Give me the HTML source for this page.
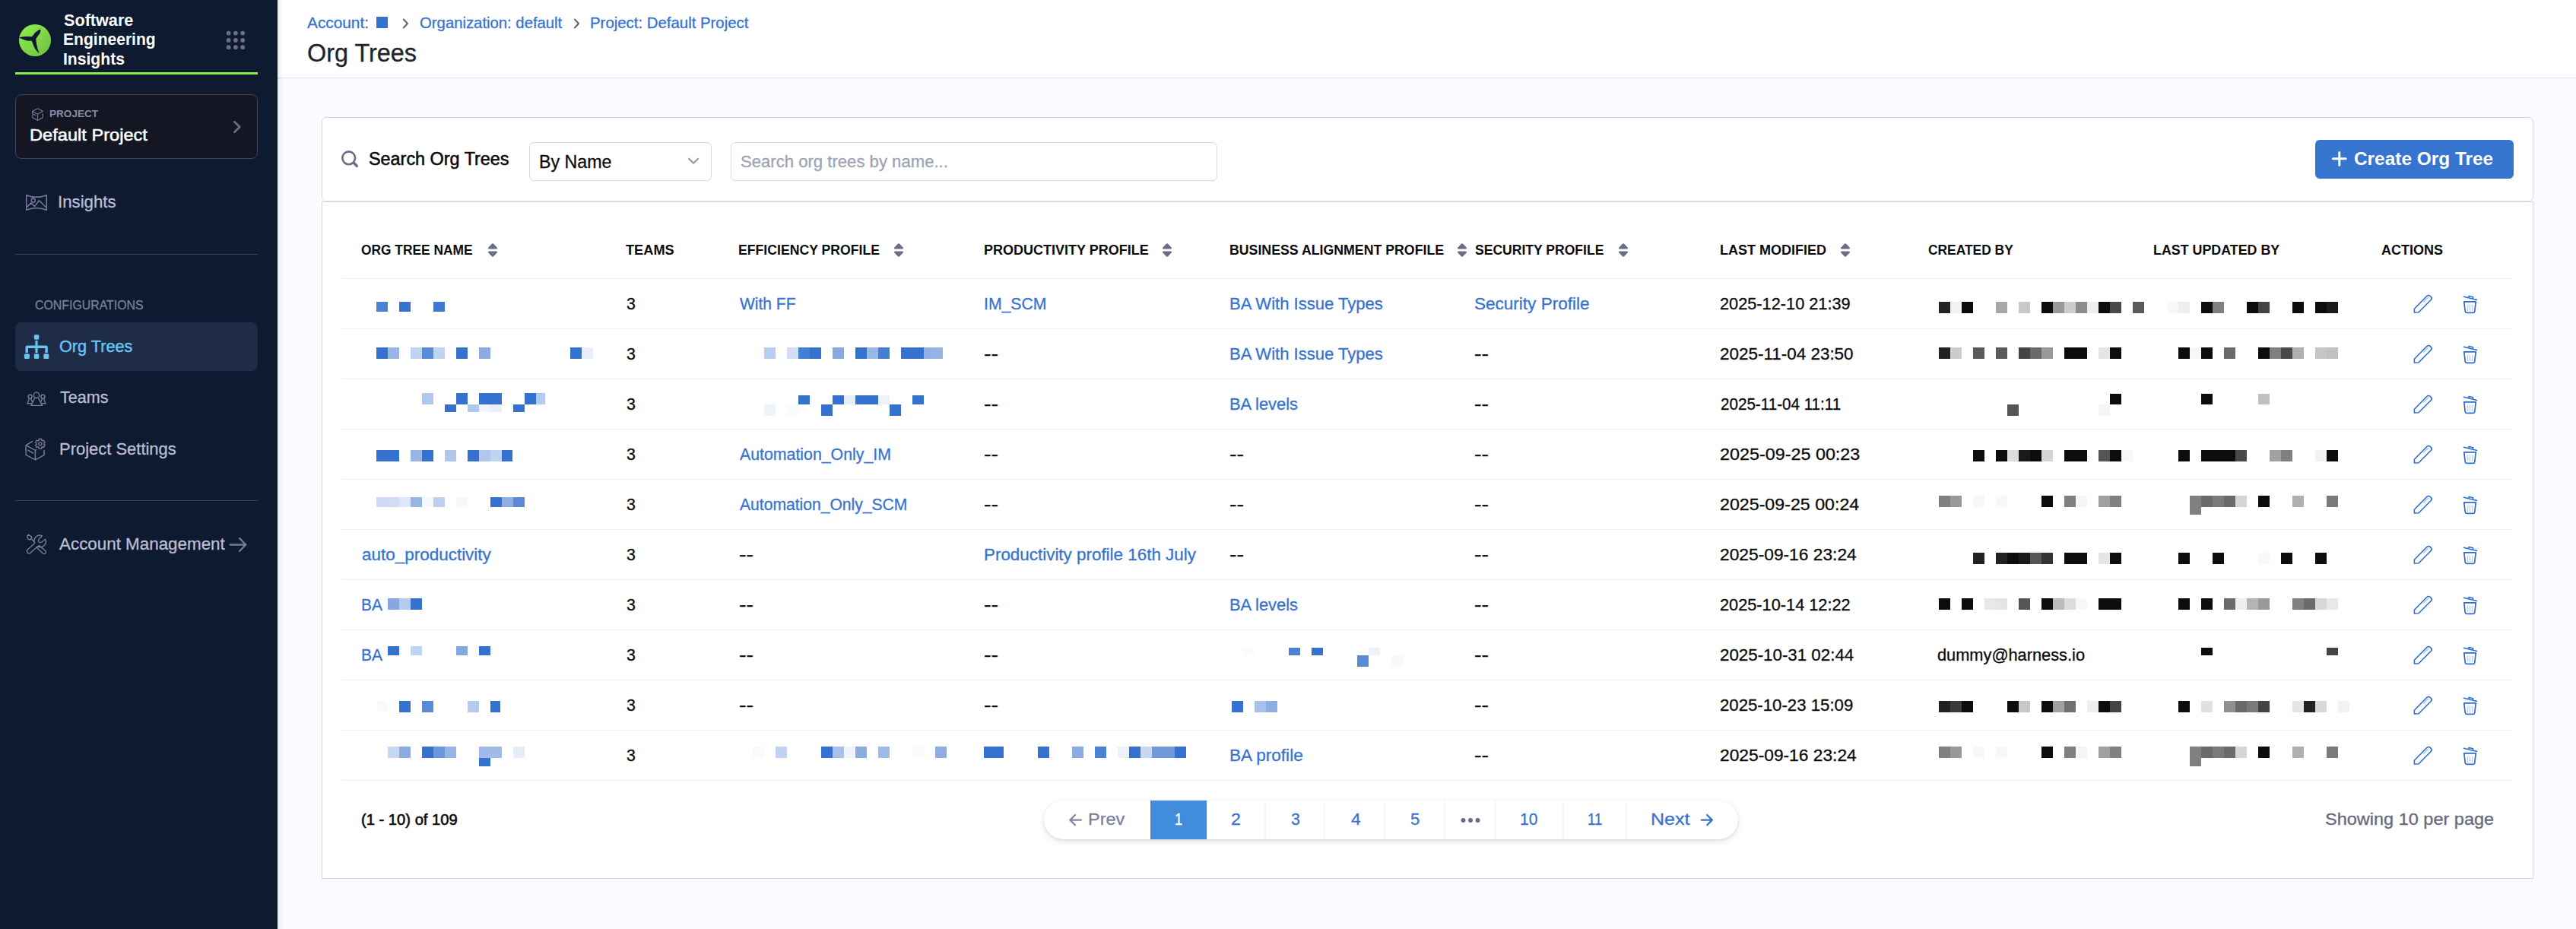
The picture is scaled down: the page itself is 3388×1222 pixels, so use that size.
<!DOCTYPE html>
<html lang="en"><head><meta charset="utf-8"><title>Org Trees</title>
<style>
html,body{margin:0;padding:0;}
body{width:3388px;height:1222px;overflow:hidden;position:relative;background:#fafbfe;font-family:"Liberation Sans", Arial, sans-serif;}
.t{position:absolute;white-space:nowrap;height:40px;line-height:40px;transform-origin:0 50%;}
.abs{position:absolute;}

#sb{left:0;top:0;width:365px;height:1222px;background:#0e1a30;}
#hdr{left:365px;top:0;width:3023px;height:102px;background:#fff;border-bottom:1.5px solid #dcdde8;}
.card{background:#fff;border:1.3px solid #d6d7e4;box-sizing:border-box;}
.rl{left:449px;width:2856px;height:1.2px;background:#eeeff6;}

</style></head><body>
<div id="sb" class="abs"></div>
<div class="abs" style="left:365px;top:0;width:8px;height:1222px;background:linear-gradient(90deg,rgba(40,41,61,0.07),rgba(40,41,61,0));"></div>
<div id="hdr" class="abs"></div>
<div class="abs" style="left:365px;top:0;width:6px;height:104px;background:linear-gradient(90deg,rgba(40,41,61,0.10),rgba(40,41,61,0));"></div>
<div class="abs" style="left:20px;top:94.5px;width:319px;height:3.5px;background:#89ec4d;"></div>
<div class="abs" style="left:20px;top:124px;width:319px;height:85px;box-sizing:border-box;background:#141624;border:1.5px solid #42445a;border-radius:8px;"></div>
<div class="abs" style="left:20px;top:424px;width:319px;height:63.5px;background:#1f2c47;border-radius:8px;"></div>
<div class="abs" style="left:20px;top:333.7px;width:319px;height:1.5px;background:#3b3e54;"></div>
<div class="abs" style="left:20px;top:657.6px;width:319px;height:1.5px;background:#3b3e54;"></div>
<div class="abs card" style="left:422.8px;top:154px;width:2909px;height:111px;border-radius:6px;"></div>
<div class="abs card" style="left:422.8px;top:264.9px;width:2909px;height:891.3px;"></div>
<div class="abs" style="left:696px;top:187px;width:240px;height:51px;box-sizing:border-box;border:1.5px solid #d9dae6;border-radius:6px;background:#fff;"></div>
<div class="abs" style="left:961px;top:187px;width:640px;height:51px;box-sizing:border-box;border:1.5px solid #d9dae6;border-radius:6px;background:#fff;"></div>
<div class="abs" style="left:3045px;top:184px;width:261.2px;height:50.7px;border-radius:6px;background:#3575d0;"></div>
<div class="abs rl" style="top:365.9px;"></div>
<div class="abs rl" style="top:431.9px;"></div>
<div class="abs rl" style="top:497.9px;"></div>
<div class="abs rl" style="top:563.9px;"></div>
<div class="abs rl" style="top:629.9px;"></div>
<div class="abs rl" style="top:695.9px;"></div>
<div class="abs rl" style="top:761.9px;"></div>
<div class="abs rl" style="top:827.9px;"></div>
<div class="abs rl" style="top:893.9px;"></div>
<div class="abs rl" style="top:959.9px;"></div>
<div class="abs rl" style="top:1025.9px;"></div>
<div class="abs" style="left:1373px;top:1053px;width:913px;height:51px;border-radius:26px;background:#fff;box-shadow:0 1px 3px rgba(40,41,61,0.10),0 3px 8px rgba(96,97,112,0.16);"></div>
<div class="abs" style="left:1513px;top:1053px;width:74px;height:51px;background:#418ddc;"></div>
<div class="abs" style="left:1661.5px;top:1053px;width:3px;height:51px;background:linear-gradient(90deg,rgba(40,41,61,0),rgba(40,41,61,0.06));"></div>
<div class="abs" style="left:1740.3px;top:1053px;width:3px;height:51px;background:linear-gradient(90deg,rgba(40,41,61,0),rgba(40,41,61,0.06));"></div>
<div class="abs" style="left:1819.3px;top:1053px;width:3px;height:51px;background:linear-gradient(90deg,rgba(40,41,61,0),rgba(40,41,61,0.06));"></div>
<div class="abs" style="left:1897.8px;top:1053px;width:3px;height:51px;background:linear-gradient(90deg,rgba(40,41,61,0),rgba(40,41,61,0.06));"></div>
<div class="abs" style="left:1964.5px;top:1053px;width:3px;height:51px;background:linear-gradient(90deg,rgba(40,41,61,0),rgba(40,41,61,0.06));"></div>
<div class="abs" style="left:2053.5px;top:1053px;width:3px;height:51px;background:linear-gradient(90deg,rgba(40,41,61,0),rgba(40,41,61,0.06));"></div>
<div class="abs" style="left:2136.5px;top:1053px;width:3px;height:51px;background:linear-gradient(90deg,rgba(40,41,61,0),rgba(40,41,61,0.06));"></div>
<div class="abs" style="left:25px;top:32px;width:42px;height:42px;border-radius:50%;background:linear-gradient(135deg,#8eea4c 10%,#72c443 90%);"></div>
<svg class="abs" style="left:0;top:0" width="3388" height="1222" viewBox="0 0 3388 1222"><path fill="#0e1a30" d="M25.0,49.2 Q33,47.4 41.2,48.3 L42.0,48.2 Q45.2,42.6 50.7,39.4 L53.3,38.6 Q53.8,43 50.4,46.6 Q48.4,49 47.3,51.2 Q47.6,57.5 49.2,63.3 Q50.2,66.5 51.7,70.1 Q46.4,65.6 44.8,61.4 Q43,57 41.5,53.6 Q36,54.2 32.3,52.4 Q28,51.2 25.0,49.2 Z"/>
<circle cx="300.6" cy="43.6" r="2.9" fill="#6c6e88"/>
<circle cx="309.9" cy="43.6" r="2.9" fill="#6c6e88"/>
<circle cx="319.2" cy="43.6" r="2.9" fill="#6c6e88"/>
<circle cx="300.6" cy="52.9" r="2.9" fill="#6c6e88"/>
<circle cx="309.9" cy="52.9" r="2.9" fill="#6c6e88"/>
<circle cx="319.2" cy="52.9" r="2.9" fill="#6c6e88"/>
<circle cx="300.6" cy="62.2" r="2.9" fill="#6c6e88"/>
<circle cx="309.9" cy="62.2" r="2.9" fill="#6c6e88"/>
<circle cx="319.2" cy="62.2" r="2.9" fill="#6c6e88"/>
<g fill="none" stroke="#696b88" stroke-width="1.3" stroke-linejoin="round" stroke-linecap="round"><path d="M56.3,149.6 L56.3,154.6 L49.5,158.4 L42.7,154.6 L42.7,146.4 L49.5,142.7 L56.3,146.4 L49.5,150.3 L42.7,146.4"/><path d="M49.5,150.3 L49.5,158.4"/><path d="M44.6,150.4 L46.7,151.6"/></g>
<path d="M308.3,160.3 L315.2,167 L308.3,173.8" fill="none" stroke="#6d6f8a" stroke-width="2.6" stroke-linecap="round" stroke-linejoin="round"/>
<g fill="none" stroke="#787a99" stroke-width="1.5" stroke-linejoin="round"><path d="M34.7,256.7 Q48,262 61.3,256.7 L61.3,276.3 Q48,271.4 34.7,276.3 Z"/><circle cx="43.7" cy="263.5" r="2.6"/><path d="M34.9,272.6 L41.1,266.9 L45.5,271.6 L51.4,263.8 L61.2,273.2"/></g>
<g fill="#69c4f2"><rect x="44.8" y="440.2" width="6.5" height="6.5" rx="1.6"/><rect x="46.4" y="448" width="3.2" height="16"/><path d="M33.5,464 L33.5,457 Q33.5,454.5 36,454.5 L60.3,454.5 Q62.8,454.5 62.8,457 L62.8,464 L59.4,464 L59.4,458 L36.9,458 L36.9,464 Z"/><rect x="31.9" y="465.3" width="7" height="6.8" rx="1.6"/><rect x="44.8" y="465.3" width="6.5" height="6.8" rx="1.6"/><rect x="57.3" y="465.3" width="7" height="6.8" rx="1.6"/></g>
<g fill="none" stroke="#787a99" stroke-width="1.4" stroke-linejoin="round"><circle cx="48" cy="519.8" r="3.7"/><path d="M45.6,523.6 L41,533.4 L55.4,533.4 L50.4,523.6"/><circle cx="39.6" cy="521.8" r="2.5"/><path d="M38.6,524.6 L36,530.8 L41.6,530.8 M40.7,524.6 L42.6,528.6"/><circle cx="56.5" cy="521.8" r="2.5"/><path d="M57.5,524.6 L60.1,530.8 L54.6,530.8 M55.4,524.6 L53.6,528.6"/></g>
<g fill="none" stroke="#787a99" stroke-width="1.5" stroke-linejoin="round" stroke-linecap="round"><path d="M42.6,580.6 L34.1,585.7 L34.1,598.3 L46.4,604.8 L58,598.6 L58,592.4 M34.1,585.7 L46.4,592.4 L47.8,591.7 M46.4,592.4 L46.4,604.8 M36.6,592.2 L43.6,596"/><path d="M51.0,577.5 L54.8,577.5 L54.7,579.2 L56.0,580.0 L57.4,579.0 L59.3,582.3 L57.7,583.0 L57.7,584.6 L59.3,585.3 L57.4,588.6 L56.0,587.6 L54.7,588.4 L54.8,590.1 L51.0,590.1 L51.1,588.4 L49.8,587.6 L48.4,588.6 L46.5,585.3 L48.1,584.6 L48.1,583.0 L46.5,582.3 L48.4,579.0 L49.8,580.0 L51.1,579.2 Z" stroke-width="1.3"/><circle cx="52.9" cy="583.8" r="2.1" stroke-width="1.3"/></g>
<g fill="none" stroke="#787a99" stroke-width="1.4" stroke-linejoin="round" stroke-linecap="round"><path d="M49.6,718.6 A7.2 7.2 0 0 0 59.6,709.2 L54.8,713.2 Q52,714.3 51.0,712.8 Q49.8,710.5 51.3,708.9 L55.5,704.8 A7.4 7.4 0 0 0 45.6,714.4 L36.3,723 A2.9 2.9 0 0 0 40.4,727.1 Z"/><path d="M37.6,703.3 L42,706.6 L39.6,710.2 L36.9,709.2 L35.6,705.4 Z M41,708.6 L45.2,713 M48.6,720.6 L51.6,717.6 L60,724.8 A2.5 2.5 0 0 1 56.6,728.2 Z"/></g>
<path d="M302.5,716.5 L322.5,716.5 M315,708 L323.3,716.5 L315,725" fill="none" stroke="#77799a" stroke-width="2.3" stroke-linecap="round" stroke-linejoin="round"/>
<path d="M530.8,25.5 L536.0,31 L530.8,36.5" fill="none" stroke="#5e6275" stroke-width="2" stroke-linecap="round" stroke-linejoin="round"/>
<path d="M755.9,25.5 L761.1,31 L755.9,36.5" fill="none" stroke="#5e6275" stroke-width="2" stroke-linecap="round" stroke-linejoin="round"/>
<g fill="none" stroke="#6b6d88" stroke-linecap="round"><circle cx="458.7" cy="207.8" r="8.4" stroke-width="2.6"/><path d="M465.3,214.3 L469.3,218.3" stroke-width="3.6"/></g>
<path d="M906.2,208.8 L912.1,214.6 L918,208.8" fill="none" stroke="#9ca0b4" stroke-width="2.4" stroke-linecap="round" stroke-linejoin="round"/>
<path d="M3068.4,208.8 L3085.2,208.8 M3076.8,200.4 L3076.8,217.2" stroke="#fff" stroke-width="3" stroke-linecap="round"/>
<path fill="#6b6d88" stroke="#6b6d88" stroke-width="2.4" stroke-linejoin="round" d="M643.2,326.3 L648,321.4 L652.8,326.3 Z M643.2,331.6 L648,336.6 L652.8,331.6 Z"/>
<path fill="#6b6d88" stroke="#6b6d88" stroke-width="2.4" stroke-linejoin="round" d="M1177.2,326.3 L1182,321.4 L1186.8,326.3 Z M1177.2,331.6 L1182,336.6 L1186.8,331.6 Z"/>
<path fill="#6b6d88" stroke="#6b6d88" stroke-width="2.4" stroke-linejoin="round" d="M1530.2,326.3 L1535,321.4 L1539.8,326.3 Z M1530.2,331.6 L1535,336.6 L1539.8,331.6 Z"/>
<path fill="#6b6d88" stroke="#6b6d88" stroke-width="2.4" stroke-linejoin="round" d="M1918.2,326.3 L1923,321.4 L1927.8,326.3 Z M1918.2,331.6 L1923,336.6 L1927.8,331.6 Z"/>
<path fill="#6b6d88" stroke="#6b6d88" stroke-width="2.4" stroke-linejoin="round" d="M2130.2,326.3 L2135,321.4 L2139.8,326.3 Z M2130.2,331.6 L2135,336.6 L2139.8,331.6 Z"/>
<path fill="#6b6d88" stroke="#6b6d88" stroke-width="2.4" stroke-linejoin="round" d="M2422.2,326.3 L2427,321.4 L2431.8,326.3 Z M2422.2,331.6 L2427,336.6 L2431.8,331.6 Z"/>
<g transform="translate(0,399.5)" fill="none" stroke="#2e6bd0" stroke-width="1.6" stroke-linejoin="round" stroke-linecap="round"><path d="M3175.4,11.5 L3175.4,6.8 L3191.8,-10.0 Q3194.2,-12.0 3196.3,-10.0 L3197.4,-8.9 Q3199.2,-7.0 3197.2,-5.0 L3181,11.3 Z"/><path d="M3187.6,-2.6 L3193.4,-8.2" stroke="#b5cdf0" stroke-width="1.8"/><path d="M3240.4,-9.2 L3257.6,-5.1 M3246.6,-7.8 L3247,-10 L3252.6,-8.7 L3252.2,-6.5" stroke-width="1.5"/><path d="M3240.8,-2.7 L3256.2,-2.7 L3254.8,10 Q3254.6,11.8 3252.8,11.8 L3244.2,11.8 Q3242.4,11.8 3242.2,10 Z" stroke-width="1.7"/><path d="M3245.4,1.6 L3245.6,9 M3248.5,1.6 L3248.5,9 M3251.8,1.6 L3251.5,9" stroke="#b5cdf0" stroke-width="1.3"/></g>
<g transform="translate(0,465.5)" fill="none" stroke="#2e6bd0" stroke-width="1.6" stroke-linejoin="round" stroke-linecap="round"><path d="M3175.4,11.5 L3175.4,6.8 L3191.8,-10.0 Q3194.2,-12.0 3196.3,-10.0 L3197.4,-8.9 Q3199.2,-7.0 3197.2,-5.0 L3181,11.3 Z"/><path d="M3187.6,-2.6 L3193.4,-8.2" stroke="#b5cdf0" stroke-width="1.8"/><path d="M3240.4,-9.2 L3257.6,-5.1 M3246.6,-7.8 L3247,-10 L3252.6,-8.7 L3252.2,-6.5" stroke-width="1.5"/><path d="M3240.8,-2.7 L3256.2,-2.7 L3254.8,10 Q3254.6,11.8 3252.8,11.8 L3244.2,11.8 Q3242.4,11.8 3242.2,10 Z" stroke-width="1.7"/><path d="M3245.4,1.6 L3245.6,9 M3248.5,1.6 L3248.5,9 M3251.8,1.6 L3251.5,9" stroke="#b5cdf0" stroke-width="1.3"/></g>
<g transform="translate(0,531.5)" fill="none" stroke="#2e6bd0" stroke-width="1.6" stroke-linejoin="round" stroke-linecap="round"><path d="M3175.4,11.5 L3175.4,6.8 L3191.8,-10.0 Q3194.2,-12.0 3196.3,-10.0 L3197.4,-8.9 Q3199.2,-7.0 3197.2,-5.0 L3181,11.3 Z"/><path d="M3187.6,-2.6 L3193.4,-8.2" stroke="#b5cdf0" stroke-width="1.8"/><path d="M3240.4,-9.2 L3257.6,-5.1 M3246.6,-7.8 L3247,-10 L3252.6,-8.7 L3252.2,-6.5" stroke-width="1.5"/><path d="M3240.8,-2.7 L3256.2,-2.7 L3254.8,10 Q3254.6,11.8 3252.8,11.8 L3244.2,11.8 Q3242.4,11.8 3242.2,10 Z" stroke-width="1.7"/><path d="M3245.4,1.6 L3245.6,9 M3248.5,1.6 L3248.5,9 M3251.8,1.6 L3251.5,9" stroke="#b5cdf0" stroke-width="1.3"/></g>
<g transform="translate(0,597.5)" fill="none" stroke="#2e6bd0" stroke-width="1.6" stroke-linejoin="round" stroke-linecap="round"><path d="M3175.4,11.5 L3175.4,6.8 L3191.8,-10.0 Q3194.2,-12.0 3196.3,-10.0 L3197.4,-8.9 Q3199.2,-7.0 3197.2,-5.0 L3181,11.3 Z"/><path d="M3187.6,-2.6 L3193.4,-8.2" stroke="#b5cdf0" stroke-width="1.8"/><path d="M3240.4,-9.2 L3257.6,-5.1 M3246.6,-7.8 L3247,-10 L3252.6,-8.7 L3252.2,-6.5" stroke-width="1.5"/><path d="M3240.8,-2.7 L3256.2,-2.7 L3254.8,10 Q3254.6,11.8 3252.8,11.8 L3244.2,11.8 Q3242.4,11.8 3242.2,10 Z" stroke-width="1.7"/><path d="M3245.4,1.6 L3245.6,9 M3248.5,1.6 L3248.5,9 M3251.8,1.6 L3251.5,9" stroke="#b5cdf0" stroke-width="1.3"/></g>
<g transform="translate(0,663.5)" fill="none" stroke="#2e6bd0" stroke-width="1.6" stroke-linejoin="round" stroke-linecap="round"><path d="M3175.4,11.5 L3175.4,6.8 L3191.8,-10.0 Q3194.2,-12.0 3196.3,-10.0 L3197.4,-8.9 Q3199.2,-7.0 3197.2,-5.0 L3181,11.3 Z"/><path d="M3187.6,-2.6 L3193.4,-8.2" stroke="#b5cdf0" stroke-width="1.8"/><path d="M3240.4,-9.2 L3257.6,-5.1 M3246.6,-7.8 L3247,-10 L3252.6,-8.7 L3252.2,-6.5" stroke-width="1.5"/><path d="M3240.8,-2.7 L3256.2,-2.7 L3254.8,10 Q3254.6,11.8 3252.8,11.8 L3244.2,11.8 Q3242.4,11.8 3242.2,10 Z" stroke-width="1.7"/><path d="M3245.4,1.6 L3245.6,9 M3248.5,1.6 L3248.5,9 M3251.8,1.6 L3251.5,9" stroke="#b5cdf0" stroke-width="1.3"/></g>
<g transform="translate(0,729.5)" fill="none" stroke="#2e6bd0" stroke-width="1.6" stroke-linejoin="round" stroke-linecap="round"><path d="M3175.4,11.5 L3175.4,6.8 L3191.8,-10.0 Q3194.2,-12.0 3196.3,-10.0 L3197.4,-8.9 Q3199.2,-7.0 3197.2,-5.0 L3181,11.3 Z"/><path d="M3187.6,-2.6 L3193.4,-8.2" stroke="#b5cdf0" stroke-width="1.8"/><path d="M3240.4,-9.2 L3257.6,-5.1 M3246.6,-7.8 L3247,-10 L3252.6,-8.7 L3252.2,-6.5" stroke-width="1.5"/><path d="M3240.8,-2.7 L3256.2,-2.7 L3254.8,10 Q3254.6,11.8 3252.8,11.8 L3244.2,11.8 Q3242.4,11.8 3242.2,10 Z" stroke-width="1.7"/><path d="M3245.4,1.6 L3245.6,9 M3248.5,1.6 L3248.5,9 M3251.8,1.6 L3251.5,9" stroke="#b5cdf0" stroke-width="1.3"/></g>
<g transform="translate(0,795.5)" fill="none" stroke="#2e6bd0" stroke-width="1.6" stroke-linejoin="round" stroke-linecap="round"><path d="M3175.4,11.5 L3175.4,6.8 L3191.8,-10.0 Q3194.2,-12.0 3196.3,-10.0 L3197.4,-8.9 Q3199.2,-7.0 3197.2,-5.0 L3181,11.3 Z"/><path d="M3187.6,-2.6 L3193.4,-8.2" stroke="#b5cdf0" stroke-width="1.8"/><path d="M3240.4,-9.2 L3257.6,-5.1 M3246.6,-7.8 L3247,-10 L3252.6,-8.7 L3252.2,-6.5" stroke-width="1.5"/><path d="M3240.8,-2.7 L3256.2,-2.7 L3254.8,10 Q3254.6,11.8 3252.8,11.8 L3244.2,11.8 Q3242.4,11.8 3242.2,10 Z" stroke-width="1.7"/><path d="M3245.4,1.6 L3245.6,9 M3248.5,1.6 L3248.5,9 M3251.8,1.6 L3251.5,9" stroke="#b5cdf0" stroke-width="1.3"/></g>
<g transform="translate(0,861.5)" fill="none" stroke="#2e6bd0" stroke-width="1.6" stroke-linejoin="round" stroke-linecap="round"><path d="M3175.4,11.5 L3175.4,6.8 L3191.8,-10.0 Q3194.2,-12.0 3196.3,-10.0 L3197.4,-8.9 Q3199.2,-7.0 3197.2,-5.0 L3181,11.3 Z"/><path d="M3187.6,-2.6 L3193.4,-8.2" stroke="#b5cdf0" stroke-width="1.8"/><path d="M3240.4,-9.2 L3257.6,-5.1 M3246.6,-7.8 L3247,-10 L3252.6,-8.7 L3252.2,-6.5" stroke-width="1.5"/><path d="M3240.8,-2.7 L3256.2,-2.7 L3254.8,10 Q3254.6,11.8 3252.8,11.8 L3244.2,11.8 Q3242.4,11.8 3242.2,10 Z" stroke-width="1.7"/><path d="M3245.4,1.6 L3245.6,9 M3248.5,1.6 L3248.5,9 M3251.8,1.6 L3251.5,9" stroke="#b5cdf0" stroke-width="1.3"/></g>
<g transform="translate(0,927.5)" fill="none" stroke="#2e6bd0" stroke-width="1.6" stroke-linejoin="round" stroke-linecap="round"><path d="M3175.4,11.5 L3175.4,6.8 L3191.8,-10.0 Q3194.2,-12.0 3196.3,-10.0 L3197.4,-8.9 Q3199.2,-7.0 3197.2,-5.0 L3181,11.3 Z"/><path d="M3187.6,-2.6 L3193.4,-8.2" stroke="#b5cdf0" stroke-width="1.8"/><path d="M3240.4,-9.2 L3257.6,-5.1 M3246.6,-7.8 L3247,-10 L3252.6,-8.7 L3252.2,-6.5" stroke-width="1.5"/><path d="M3240.8,-2.7 L3256.2,-2.7 L3254.8,10 Q3254.6,11.8 3252.8,11.8 L3244.2,11.8 Q3242.4,11.8 3242.2,10 Z" stroke-width="1.7"/><path d="M3245.4,1.6 L3245.6,9 M3248.5,1.6 L3248.5,9 M3251.8,1.6 L3251.5,9" stroke="#b5cdf0" stroke-width="1.3"/></g>
<g transform="translate(0,993.5)" fill="none" stroke="#2e6bd0" stroke-width="1.6" stroke-linejoin="round" stroke-linecap="round"><path d="M3175.4,11.5 L3175.4,6.8 L3191.8,-10.0 Q3194.2,-12.0 3196.3,-10.0 L3197.4,-8.9 Q3199.2,-7.0 3197.2,-5.0 L3181,11.3 Z"/><path d="M3187.6,-2.6 L3193.4,-8.2" stroke="#b5cdf0" stroke-width="1.8"/><path d="M3240.4,-9.2 L3257.6,-5.1 M3246.6,-7.8 L3247,-10 L3252.6,-8.7 L3252.2,-6.5" stroke-width="1.5"/><path d="M3240.8,-2.7 L3256.2,-2.7 L3254.8,10 Q3254.6,11.8 3252.8,11.8 L3244.2,11.8 Q3242.4,11.8 3242.2,10 Z" stroke-width="1.7"/><path d="M3245.4,1.6 L3245.6,9 M3248.5,1.6 L3248.5,9 M3251.8,1.6 L3251.5,9" stroke="#b5cdf0" stroke-width="1.3"/></g>
<path d="M1422,1078.6 L1407.6,1078.6 M1414,1072 L1407.4,1078.6 L1414,1085.2" fill="none" stroke="#8486a0" stroke-width="2.3" stroke-linecap="round" stroke-linejoin="round"/>
<path d="M2237.8,1078.6 L2251.6,1078.6 M2245.2,1072 L2251.8,1078.6 L2245.2,1085.2" fill="none" stroke="#3673d0" stroke-width="2.3" stroke-linecap="round" stroke-linejoin="round"/>
<circle cx="1924.5" cy="1079" r="3" fill="#6b6d88"/>
<circle cx="1934" cy="1079" r="3" fill="#6b6d88"/>
<circle cx="1943.5" cy="1079" r="3" fill="#6b6d88"/></svg>
<svg class="abs" style="left:0;top:0" width="3388" height="1222" viewBox="0 0 3388 1222" shape-rendering="crispEdges">
<rect x="495" y="22" width="15" height="15" fill="#3572cf"/>
<rect x="495" y="397" width="15" height="13" fill="#4a82d4"/>
<rect x="525" y="397" width="15" height="13" fill="#3572cf"/>
<rect x="570" y="397" width="15" height="13" fill="#3f7ad2"/>
<rect x="495" y="457" width="15" height="15" fill="#3572cf"/>
<rect x="510" y="457" width="15" height="15" fill="#98b5e4"/>
<rect x="540" y="457" width="15" height="15" fill="#c0d3f0"/>
<rect x="555" y="457" width="15" height="15" fill="#5a8bd7"/>
<rect x="570" y="457" width="15" height="15" fill="#c0d3f0"/>
<rect x="600" y="457" width="15" height="15" fill="#3572cf"/>
<rect x="630" y="457" width="15" height="15" fill="#8aace1"/>
<rect x="750" y="457" width="15" height="15" fill="#3572cf"/>
<rect x="765" y="457" width="15" height="15" fill="#e8eff9"/>
<rect x="555" y="517" width="15" height="15" fill="#b0c8ed"/>
<rect x="600" y="517" width="15" height="15" fill="#3572cf"/>
<rect x="630" y="517" width="15" height="15" fill="#3572cf"/>
<rect x="645" y="517" width="15" height="15" fill="#3572cf"/>
<rect x="690" y="517" width="15" height="15" fill="#3572cf"/>
<rect x="705" y="517" width="12" height="15" fill="#b5cbee"/>
<rect x="585" y="532" width="15" height="10" fill="#3572cf"/>
<rect x="615" y="532" width="15" height="10" fill="#b0c8ed"/>
<rect x="630" y="532" width="15" height="10" fill="#f0f4fb"/>
<rect x="645" y="532" width="15" height="10" fill="#eaf0fa"/>
<rect x="675" y="532" width="15" height="10" fill="#3572cf"/>
<rect x="495" y="592" width="15" height="15" fill="#3572cf"/>
<rect x="510" y="592" width="15" height="15" fill="#3572cf"/>
<rect x="540" y="592" width="15" height="15" fill="#9ab6e5"/>
<rect x="555" y="592" width="15" height="15" fill="#3572cf"/>
<rect x="585" y="592" width="15" height="15" fill="#b0c6ec"/>
<rect x="615" y="592" width="15" height="15" fill="#3572cf"/>
<rect x="630" y="592" width="15" height="15" fill="#b0c8ed"/>
<rect x="645" y="592" width="15" height="15" fill="#c0d3f0"/>
<rect x="660" y="592" width="14" height="15" fill="#3572cf"/>
<rect x="495" y="654" width="15" height="13" fill="#cddbf3"/>
<rect x="510" y="654" width="15" height="13" fill="#d0ddf4"/>
<rect x="525" y="654" width="15" height="13" fill="#dde7f7"/>
<rect x="540" y="654" width="15" height="13" fill="#98b5e4"/>
<rect x="555" y="654" width="15" height="13" fill="#f5f8fc"/>
<rect x="570" y="654" width="15" height="13" fill="#bed0ef"/>
<rect x="600" y="654" width="15" height="13" fill="#f6f8fd"/>
<rect x="645" y="654" width="15" height="13" fill="#3572cf"/>
<rect x="660" y="654" width="15" height="13" fill="#8eade2"/>
<rect x="675" y="654" width="15" height="13" fill="#5a8ad6"/>
<rect x="510" y="787" width="15" height="15" fill="#86a8e0"/>
<rect x="525" y="787" width="15" height="15" fill="#b5caee"/>
<rect x="540" y="787" width="15" height="15" fill="#3572cf"/>
<rect x="510" y="850" width="15" height="12" fill="#3572cf"/>
<rect x="540" y="850" width="15" height="12" fill="#c0d3f0"/>
<rect x="600" y="850" width="15" height="12" fill="#86a8e0"/>
<rect x="630" y="850" width="15" height="12" fill="#3572cf"/>
<rect x="495" y="922" width="15" height="15" fill="#f8fafd"/>
<rect x="525" y="922" width="15" height="15" fill="#3572cf"/>
<rect x="555" y="922" width="15" height="15" fill="#5a8ad6"/>
<rect x="615" y="922" width="15" height="15" fill="#b5caee"/>
<rect x="645" y="922" width="13" height="15" fill="#3572cf"/>
<rect x="510" y="982" width="15" height="15" fill="#c8d8f2"/>
<rect x="525" y="982" width="15" height="15" fill="#8aace1"/>
<rect x="555" y="982" width="15" height="15" fill="#3572cf"/>
<rect x="570" y="982" width="15" height="15" fill="#6a96da"/>
<rect x="585" y="982" width="15" height="15" fill="#98b5e4"/>
<rect x="630" y="982" width="15" height="15" fill="#a0bbe7"/>
<rect x="645" y="982" width="15" height="15" fill="#a0bbe7"/>
<rect x="675" y="982" width="15" height="15" fill="#e5edf9"/>
<rect x="630" y="997" width="15" height="11" fill="#3572cf"/>
<rect x="990" y="457" width="15" height="15" fill="#fcfdfe"/>
<rect x="1005" y="457" width="15" height="15" fill="#b8cdef"/>
<rect x="1035" y="457" width="15" height="15" fill="#d0def4"/>
<rect x="1050" y="457" width="15" height="15" fill="#4380d3"/>
<rect x="1065" y="457" width="15" height="15" fill="#3572cf"/>
<rect x="1095" y="457" width="15" height="15" fill="#86a9e0"/>
<rect x="1125" y="457" width="15" height="15" fill="#3572cf"/>
<rect x="1140" y="457" width="15" height="15" fill="#9ab8e6"/>
<rect x="1155" y="457" width="15" height="15" fill="#457fd3"/>
<rect x="1185" y="457" width="15" height="15" fill="#3572cf"/>
<rect x="1200" y="457" width="15" height="15" fill="#3572cf"/>
<rect x="1215" y="457" width="15" height="15" fill="#93b2e4"/>
<rect x="1230" y="457" width="10" height="15" fill="#95b3e4"/>
<rect x="1050" y="520" width="15" height="12" fill="#3572cf"/>
<rect x="1095" y="520" width="15" height="12" fill="#3572cf"/>
<rect x="1110" y="520" width="15" height="12" fill="#e8eef9"/>
<rect x="1125" y="520" width="15" height="12" fill="#3572cf"/>
<rect x="1140" y="520" width="15" height="12" fill="#3572cf"/>
<rect x="1155" y="520" width="15" height="12" fill="#eef2fb"/>
<rect x="1200" y="520" width="15" height="12" fill="#3572cf"/>
<rect x="1005" y="532" width="15" height="15" fill="#eef2fb"/>
<rect x="1035" y="532" width="15" height="15" fill="#fafbfe"/>
<rect x="1080" y="532" width="15" height="15" fill="#3572cf"/>
<rect x="1170" y="532" width="15" height="15" fill="#3572cf"/>
<rect x="990" y="982" width="15" height="15" fill="#f8fafd"/>
<rect x="1020" y="982" width="15" height="15" fill="#c0d3f0"/>
<rect x="1080" y="982" width="15" height="15" fill="#3572cf"/>
<rect x="1095" y="982" width="15" height="15" fill="#a8c0ea"/>
<rect x="1110" y="982" width="15" height="15" fill="#f0f4fb"/>
<rect x="1125" y="982" width="15" height="15" fill="#8aace1"/>
<rect x="1155" y="982" width="15" height="15" fill="#9ebae6"/>
<rect x="1200" y="982" width="15" height="15" fill="#f8fafd"/>
<rect x="1230" y="982" width="15" height="15" fill="#8eade2"/>
<rect x="1294" y="982" width="26" height="15" fill="#3572cf"/>
<rect x="1365" y="982" width="15" height="15" fill="#3572cf"/>
<rect x="1410" y="982" width="15" height="15" fill="#8aace1"/>
<rect x="1440" y="982" width="15" height="15" fill="#4a82d4"/>
<rect x="1470" y="982" width="15" height="15" fill="#eef2fb"/>
<rect x="1485" y="982" width="15" height="15" fill="#3572cf"/>
<rect x="1500" y="982" width="15" height="15" fill="#c8d8f2"/>
<rect x="1515" y="982" width="15" height="15" fill="#6f99db"/>
<rect x="1530" y="982" width="15" height="15" fill="#6f99db"/>
<rect x="1545" y="982" width="15" height="15" fill="#3572cf"/>
<rect x="1635" y="852" width="15" height="10" fill="#fafbfe"/>
<rect x="1695" y="852" width="15" height="10" fill="#4a82d4"/>
<rect x="1725" y="852" width="15" height="10" fill="#3572cf"/>
<rect x="1800" y="852" width="15" height="10" fill="#eef2fb"/>
<rect x="1785" y="862" width="15" height="15" fill="#5a8ad6"/>
<rect x="1830" y="862" width="15" height="15" fill="#f8f9fd"/>
<rect x="1620" y="922" width="15" height="15" fill="#3572cf"/>
<rect x="1650" y="922" width="15" height="15" fill="#a8c0ea"/>
<rect x="1665" y="922" width="15" height="15" fill="#8eade2"/>
<rect x="2550" y="397" width="15" height="15" fill="#222"/>
<rect x="2565" y="397" width="15" height="15" fill="#f2f2f2"/>
<rect x="2580" y="397" width="15" height="15" fill="#0c0c0c"/>
<rect x="2625" y="397" width="15" height="15" fill="#a8a8a8"/>
<rect x="2655" y="397" width="15" height="15" fill="#c8c8c8"/>
<rect x="2685" y="397" width="15" height="15" fill="#0c0c0c"/>
<rect x="2700" y="397" width="15" height="15" fill="#999"/>
<rect x="2715" y="397" width="15" height="15" fill="#ccc"/>
<rect x="2730" y="397" width="15" height="15" fill="#8c8c8c"/>
<rect x="2745" y="397" width="15" height="15" fill="#eee"/>
<rect x="2760" y="397" width="15" height="15" fill="#0c0c0c"/>
<rect x="2775" y="397" width="15" height="15" fill="#4a4a4a"/>
<rect x="2805" y="397" width="15" height="15" fill="#5a5a5a"/>
<rect x="2550" y="457" width="15" height="15" fill="#222"/>
<rect x="2565" y="457" width="15" height="15" fill="#ccc"/>
<rect x="2595" y="457" width="15" height="15" fill="#5a5a5a"/>
<rect x="2625" y="457" width="15" height="15" fill="#5a5a5a"/>
<rect x="2655" y="457" width="15" height="15" fill="#444"/>
<rect x="2670" y="457" width="15" height="15" fill="#6a6a6a"/>
<rect x="2685" y="457" width="15" height="15" fill="#999"/>
<rect x="2715" y="457" width="15" height="15" fill="#0c0c0c"/>
<rect x="2730" y="457" width="15" height="15" fill="#0c0c0c"/>
<rect x="2760" y="457" width="15" height="15" fill="#e5e5e5"/>
<rect x="2775" y="457" width="15" height="15" fill="#0c0c0c"/>
<rect x="2775" y="518" width="15" height="14" fill="#0c0c0c"/>
<rect x="2640" y="532" width="15" height="15" fill="#555"/>
<rect x="2760" y="532" width="15" height="15" fill="#f5f5f5"/>
<rect x="2595" y="592" width="15" height="15" fill="#0c0c0c"/>
<rect x="2625" y="592" width="15" height="15" fill="#0c0c0c"/>
<rect x="2640" y="592" width="15" height="15" fill="#ddd"/>
<rect x="2655" y="592" width="15" height="15" fill="#1a1a1a"/>
<rect x="2670" y="592" width="15" height="15" fill="#0c0c0c"/>
<rect x="2685" y="592" width="15" height="15" fill="#d5d5d5"/>
<rect x="2715" y="592" width="15" height="15" fill="#0c0c0c"/>
<rect x="2730" y="592" width="15" height="15" fill="#0c0c0c"/>
<rect x="2760" y="592" width="15" height="15" fill="#555"/>
<rect x="2775" y="592" width="15" height="15" fill="#0c0c0c"/>
<rect x="2790" y="592" width="15" height="15" fill="#f8f8f8"/>
<rect x="2550" y="652" width="15" height="15" fill="#808080"/>
<rect x="2565" y="652" width="15" height="15" fill="#999"/>
<rect x="2595" y="652" width="15" height="15" fill="#f8f8f8"/>
<rect x="2625" y="652" width="15" height="15" fill="#f8f8f8"/>
<rect x="2685" y="652" width="15" height="15" fill="#0c0c0c"/>
<rect x="2715" y="652" width="15" height="15" fill="#808080"/>
<rect x="2730" y="652" width="15" height="15" fill="#f5f5f5"/>
<rect x="2760" y="652" width="15" height="15" fill="#a0a0a0"/>
<rect x="2775" y="652" width="15" height="15" fill="#808080"/>
<rect x="2595" y="727" width="15" height="15" fill="#222"/>
<rect x="2625" y="727" width="15" height="15" fill="#222"/>
<rect x="2640" y="727" width="15" height="15" fill="#0c0c0c"/>
<rect x="2655" y="727" width="15" height="15" fill="#1a1a1a"/>
<rect x="2670" y="727" width="15" height="15" fill="#555"/>
<rect x="2685" y="727" width="15" height="15" fill="#333"/>
<rect x="2715" y="727" width="15" height="15" fill="#0c0c0c"/>
<rect x="2730" y="727" width="15" height="15" fill="#0c0c0c"/>
<rect x="2760" y="727" width="15" height="15" fill="#e5e5e5"/>
<rect x="2775" y="727" width="15" height="15" fill="#0c0c0c"/>
<rect x="2550" y="787" width="15" height="15" fill="#0c0c0c"/>
<rect x="2580" y="787" width="15" height="15" fill="#0c0c0c"/>
<rect x="2610" y="787" width="15" height="15" fill="#e8e8e8"/>
<rect x="2625" y="787" width="15" height="15" fill="#e5e5e5"/>
<rect x="2655" y="787" width="15" height="15" fill="#555"/>
<rect x="2685" y="787" width="15" height="15" fill="#0c0c0c"/>
<rect x="2700" y="787" width="15" height="15" fill="#bbb"/>
<rect x="2715" y="787" width="15" height="15" fill="#ddd"/>
<rect x="2730" y="787" width="15" height="15" fill="#f8f8f8"/>
<rect x="2760" y="787" width="15" height="15" fill="#0c0c0c"/>
<rect x="2775" y="787" width="15" height="15" fill="#0c0c0c"/>
<rect x="2550" y="922" width="15" height="15" fill="#222"/>
<rect x="2565" y="922" width="15" height="15" fill="#3a3a3a"/>
<rect x="2580" y="922" width="15" height="15" fill="#0c0c0c"/>
<rect x="2640" y="922" width="15" height="15" fill="#0c0c0c"/>
<rect x="2655" y="922" width="15" height="15" fill="#c8c8c8"/>
<rect x="2685" y="922" width="15" height="15" fill="#0c0c0c"/>
<rect x="2700" y="922" width="15" height="15" fill="#a0a0a0"/>
<rect x="2715" y="922" width="15" height="15" fill="#707070"/>
<rect x="2745" y="922" width="15" height="15" fill="#eee"/>
<rect x="2760" y="922" width="15" height="15" fill="#0c0c0c"/>
<rect x="2775" y="922" width="15" height="15" fill="#444"/>
<rect x="2550" y="982" width="15" height="15" fill="#808080"/>
<rect x="2565" y="982" width="15" height="15" fill="#999"/>
<rect x="2595" y="982" width="15" height="15" fill="#f8f8f8"/>
<rect x="2625" y="982" width="15" height="15" fill="#f8f8f8"/>
<rect x="2685" y="982" width="15" height="15" fill="#0c0c0c"/>
<rect x="2715" y="982" width="15" height="15" fill="#808080"/>
<rect x="2730" y="982" width="15" height="15" fill="#f5f5f5"/>
<rect x="2760" y="982" width="15" height="15" fill="#a0a0a0"/>
<rect x="2775" y="982" width="15" height="15" fill="#808080"/>
<rect x="2850" y="397" width="15" height="15" fill="#f8f8f8"/>
<rect x="2865" y="397" width="15" height="15" fill="#eee"/>
<rect x="2895" y="397" width="15" height="15" fill="#0c0c0c"/>
<rect x="2910" y="397" width="15" height="15" fill="#808080"/>
<rect x="2955" y="397" width="15" height="15" fill="#0c0c0c"/>
<rect x="2970" y="397" width="15" height="15" fill="#444"/>
<rect x="3015" y="397" width="15" height="15" fill="#0c0c0c"/>
<rect x="3045" y="397" width="15" height="15" fill="#0c0c0c"/>
<rect x="3060" y="397" width="15" height="15" fill="#1a1a1a"/>
<rect x="2865" y="457" width="15" height="15" fill="#0c0c0c"/>
<rect x="2880" y="457" width="15" height="15" fill="#f8f8f8"/>
<rect x="2895" y="457" width="15" height="15" fill="#0c0c0c"/>
<rect x="2925" y="457" width="15" height="15" fill="#6a6a6a"/>
<rect x="2970" y="457" width="15" height="15" fill="#0c0c0c"/>
<rect x="2985" y="457" width="15" height="15" fill="#808080"/>
<rect x="3000" y="457" width="15" height="15" fill="#4a4a4a"/>
<rect x="3015" y="457" width="15" height="15" fill="#b0b0b0"/>
<rect x="3045" y="457" width="15" height="15" fill="#c5c5c5"/>
<rect x="3060" y="457" width="15" height="15" fill="#c0c0c0"/>
<rect x="2895" y="518" width="15" height="14" fill="#0c0c0c"/>
<rect x="2970" y="518" width="15" height="14" fill="#c0c0c0"/>
<rect x="2865" y="592" width="15" height="15" fill="#0c0c0c"/>
<rect x="2895" y="592" width="15" height="15" fill="#0c0c0c"/>
<rect x="2910" y="592" width="15" height="15" fill="#0c0c0c"/>
<rect x="2925" y="592" width="15" height="15" fill="#0c0c0c"/>
<rect x="2940" y="592" width="15" height="15" fill="#4a4a4a"/>
<rect x="2985" y="592" width="15" height="15" fill="#a0a0a0"/>
<rect x="3000" y="592" width="15" height="15" fill="#808080"/>
<rect x="3045" y="592" width="15" height="15" fill="#f2f2f2"/>
<rect x="3060" y="592" width="15" height="15" fill="#0c0c0c"/>
<rect x="2880" y="652" width="15" height="15" fill="#808080"/>
<rect x="2895" y="652" width="15" height="15" fill="#6a6a6a"/>
<rect x="2910" y="652" width="15" height="15" fill="#7a7a7a"/>
<rect x="2925" y="652" width="15" height="15" fill="#6a6a6a"/>
<rect x="2940" y="652" width="15" height="15" fill="#d5d5d5"/>
<rect x="2970" y="652" width="15" height="15" fill="#0c0c0c"/>
<rect x="3015" y="652" width="15" height="15" fill="#b0b0b0"/>
<rect x="3060" y="652" width="15" height="15" fill="#7a7a7a"/>
<rect x="2880" y="667" width="15" height="10" fill="#808080"/>
<rect x="2865" y="727" width="15" height="15" fill="#0c0c0c"/>
<rect x="2910" y="727" width="15" height="15" fill="#0c0c0c"/>
<rect x="2970" y="727" width="15" height="15" fill="#f8f8f8"/>
<rect x="3000" y="727" width="15" height="15" fill="#0c0c0c"/>
<rect x="3045" y="727" width="15" height="15" fill="#0c0c0c"/>
<rect x="2865" y="787" width="15" height="15" fill="#0c0c0c"/>
<rect x="2895" y="787" width="15" height="15" fill="#0c0c0c"/>
<rect x="2925" y="787" width="15" height="15" fill="#6a6a6a"/>
<rect x="2940" y="787" width="15" height="15" fill="#eee"/>
<rect x="2955" y="787" width="15" height="15" fill="#b5b5b5"/>
<rect x="2970" y="787" width="15" height="15" fill="#999"/>
<rect x="3015" y="787" width="15" height="15" fill="#808080"/>
<rect x="3030" y="787" width="15" height="15" fill="#6a6a6a"/>
<rect x="3045" y="787" width="15" height="15" fill="#d8d8d8"/>
<rect x="3060" y="787" width="15" height="15" fill="#e8e8e8"/>
<rect x="2895" y="852" width="15" height="10" fill="#0c0c0c"/>
<rect x="3060" y="852" width="15" height="10" fill="#444"/>
<rect x="2865" y="922" width="15" height="15" fill="#0c0c0c"/>
<rect x="2895" y="922" width="15" height="15" fill="#e0e0e0"/>
<rect x="2925" y="922" width="15" height="15" fill="#909090"/>
<rect x="2940" y="922" width="15" height="15" fill="#6a6a6a"/>
<rect x="2955" y="922" width="15" height="15" fill="#7a7a7a"/>
<rect x="2970" y="922" width="15" height="15" fill="#444"/>
<rect x="3015" y="922" width="15" height="15" fill="#e5e5e5"/>
<rect x="3030" y="922" width="15" height="15" fill="#222"/>
<rect x="3045" y="922" width="15" height="15" fill="#d8d8d8"/>
<rect x="3075" y="922" width="15" height="15" fill="#f2f2f2"/>
<rect x="2880" y="982" width="15" height="15" fill="#808080"/>
<rect x="2895" y="982" width="15" height="15" fill="#6a6a6a"/>
<rect x="2910" y="982" width="15" height="15" fill="#7a7a7a"/>
<rect x="2925" y="982" width="15" height="15" fill="#6a6a6a"/>
<rect x="2940" y="982" width="15" height="15" fill="#d5d5d5"/>
<rect x="2970" y="982" width="15" height="15" fill="#0c0c0c"/>
<rect x="3015" y="982" width="15" height="15" fill="#b0b0b0"/>
<rect x="3060" y="982" width="15" height="15" fill="#7a7a7a"/>
<rect x="2880" y="997" width="15" height="11" fill="#808080"/>
</svg>
<span class="t" id="t0" style="left:84.00px;top:7.00px;font-size:21.5px;font-weight:700;color:#ffffff;transform:scaleX(1.0057);">Software</span>
<span class="t" id="t1" style="left:83.00px;top:32.00px;font-size:21.5px;font-weight:700;color:#ffffff;transform:scaleX(0.9796);">Engineering</span>
<span class="t" id="t2" style="left:83.00px;top:57.50px;font-size:21.5px;font-weight:700;color:#ffffff;transform:scaleX(0.9817);">Insights</span>
<span class="t" id="t3" style="left:64.60px;top:129.50px;font-size:13.5px;font-weight:700;color:#8a8ca6;transform:scaleX(1.0054);">PROJECT</span>
<span class="t" id="t4" style="left:39.20px;top:157.50px;font-size:22px;font-weight:400;color:#ffffff;transform:scaleX(1.0737);-webkit-text-stroke:0.5px currentColor;">Default Project</span>
<span class="t" id="t5" style="left:76.40px;top:245.70px;font-size:22.5px;font-weight:400;color:#bcbed5;transform:scaleX(0.9883);-webkit-text-stroke:0.3px currentColor;">Insights</span>
<span class="t" id="t6" style="left:45.80px;top:381.00px;font-size:16.3px;font-weight:400;color:#7c7f99;transform:scaleX(0.9754);-webkit-text-stroke:0.3px currentColor;">CONFIGURATIONS</span>
<span class="t" id="t7" style="left:77.70px;top:435.70px;font-size:22.5px;font-weight:400;color:#66c6f6;transform:scaleX(0.9638);-webkit-text-stroke:0.45px currentColor;">Org Trees</span>
<span class="t" id="t8" style="left:78.50px;top:503.40px;font-size:22.5px;font-weight:400;color:#bcbed5;transform:scaleX(0.9578);-webkit-text-stroke:0.3px currentColor;">Teams</span>
<span class="t" id="t9" style="left:78.10px;top:570.60px;font-size:22.5px;font-weight:400;color:#bcbed5;transform:scaleX(0.9757);-webkit-text-stroke:0.3px currentColor;">Project Settings</span>
<span class="t" id="t10" style="left:77.90px;top:696.00px;font-size:22.5px;font-weight:400;color:#bcbed5;transform:scaleX(0.9950);-webkit-text-stroke:0.3px currentColor;">Account Management</span>
<span class="t" id="t11" style="left:404.30px;top:10.20px;font-size:20.3px;font-weight:400;color:#3673d0;transform:scaleX(1.0258);-webkit-text-stroke:0.3px currentColor;">Account:</span>
<span class="t" id="t12" style="left:552.10px;top:10.20px;font-size:20.3px;font-weight:400;color:#3673d0;-webkit-text-stroke:0.3px currentColor;">Organization: default</span>
<span class="t" id="t13" style="left:776.30px;top:10.20px;font-size:20.3px;font-weight:400;color:#3673d0;transform:scaleX(1.0049);-webkit-text-stroke:0.3px currentColor;">Project: Default Project</span>
<span class="t" id="t14" style="left:403.50px;top:49.00px;font-size:34px;font-weight:400;color:#22222a;transform:scaleX(0.9531);-webkit-text-stroke:0.3px currentColor;">Org Trees</span>
<span class="t" id="t15" style="left:485.00px;top:189.20px;font-size:23px;font-weight:400;color:#0b0b0d;transform:scaleX(1.0166);-webkit-text-stroke:0.55px currentColor;">Search Org Trees</span>
<span class="t" id="t16" style="left:709.00px;top:193.20px;font-size:23.5px;font-weight:400;color:#0b0b0d;transform:scaleX(0.9875);-webkit-text-stroke:0.3px currentColor;">By Name</span>
<span class="t" id="t17" style="left:974.00px;top:192.50px;font-size:21.5px;font-weight:400;color:#9ca3b4;transform:scaleX(1.0285);-webkit-text-stroke:0.3px currentColor;">Search org trees by name...</span>
<span class="t" id="t18" style="left:3096.40px;top:188.60px;font-size:23.5px;font-weight:700;color:#ffffff;transform:scaleX(1.0383);">Create Org Tree</span>
<span class="t" id="t19" style="left:475.40px;top:308.55px;font-size:17.8px;font-weight:700;color:#0b0b0d;transform:scaleX(0.9760);">ORG TREE NAME</span>
<span class="t" id="t20" style="left:823.00px;top:308.55px;font-size:17.8px;font-weight:700;color:#0b0b0d;transform:scaleX(1.0229);">TEAMS</span>
<span class="t" id="t21" style="left:971.00px;top:308.55px;font-size:17.8px;font-weight:700;color:#0b0b0d;transform:scaleX(0.9925);">EFFICIENCY PROFILE</span>
<span class="t" id="t22" style="left:1293.60px;top:308.55px;font-size:17.8px;font-weight:700;color:#0b0b0d;transform:scaleX(1.0122);">PRODUCTIVITY PROFILE</span>
<span class="t" id="t23" style="left:1616.60px;top:308.55px;font-size:17.8px;font-weight:700;color:#0b0b0d;transform:scaleX(0.9972);">BUSINESS ALIGNMENT PROFILE</span>
<span class="t" id="t24" style="left:1940.00px;top:308.55px;font-size:17.8px;font-weight:700;color:#0b0b0d;transform:scaleX(0.9872);">SECURITY PROFILE</span>
<span class="t" id="t25" style="left:2261.80px;top:308.55px;font-size:17.8px;font-weight:700;color:#0b0b0d;transform:scaleX(1.0132);">LAST MODIFIED</span>
<span class="t" id="t26" style="left:2536.00px;top:308.55px;font-size:17.8px;font-weight:700;color:#0b0b0d;transform:scaleX(0.9782);">CREATED BY</span>
<span class="t" id="t27" style="left:2832.00px;top:308.55px;font-size:17.8px;font-weight:700;color:#0b0b0d;transform:scaleX(1.0037);">LAST UPDATED BY</span>
<span class="t" id="t28" style="left:3131.80px;top:308.55px;font-size:17.8px;font-weight:700;color:#0b0b0d;transform:scaleX(1.0128);">ACTIONS</span>
<span class="t" id="t29" style="left:824.00px;top:380.00px;font-size:22px;font-weight:400;color:#0b0b0d;transform:scaleX(0.9693);-webkit-text-stroke:0.3px currentColor;">3</span>
<span class="t" id="t30" style="left:973.00px;top:380.00px;font-size:22px;font-weight:400;color:#3673d0;transform:scaleX(0.9548);-webkit-text-stroke:0.3px currentColor;">With FF</span>
<span class="t" id="t31" style="left:1294.00px;top:380.00px;font-size:22px;font-weight:400;color:#3673d0;transform:scaleX(0.9636);-webkit-text-stroke:0.3px currentColor;">IM_SCM</span>
<span class="t" id="t32" style="left:1617.00px;top:380.00px;font-size:22px;font-weight:400;color:#3673d0;transform:scaleX(1.0025);-webkit-text-stroke:0.3px currentColor;">BA With Issue Types</span>
<span class="t" id="t33" style="left:1939.00px;top:380.00px;font-size:22px;font-weight:400;color:#3673d0;transform:scaleX(1.0240);-webkit-text-stroke:0.3px currentColor;">Security Profile</span>
<span class="t" id="t34" style="left:2262.00px;top:380.00px;font-size:22px;font-weight:400;color:#0b0b0d;transform:scaleX(0.9884);-webkit-text-stroke:0.3px currentColor;">2025-12-10 21:39</span>
<span class="t" id="t35" style="left:824.00px;top:446.00px;font-size:22px;font-weight:400;color:#0b0b0d;transform:scaleX(0.9693);-webkit-text-stroke:0.3px currentColor;">3</span>
<span class="t" id="t36" style="left:1295.00px;top:446.00px;font-size:22px;font-weight:400;color:#0b0b0d;-webkit-text-stroke:0.3px currentColor;transform:scaleX(1.3);transform-origin:0 50%;margin-left:-1.2px;">--</span>
<span class="t" id="t37" style="left:1617.00px;top:446.00px;font-size:22px;font-weight:400;color:#3673d0;transform:scaleX(1.0025);-webkit-text-stroke:0.3px currentColor;">BA With Issue Types</span>
<span class="t" id="t38" style="left:1940.00px;top:446.00px;font-size:22px;font-weight:400;color:#0b0b0d;-webkit-text-stroke:0.3px currentColor;transform:scaleX(1.3);transform-origin:0 50%;margin-left:-1.2px;">--</span>
<span class="t" id="t39" style="left:2262.00px;top:446.00px;font-size:22px;font-weight:400;color:#0b0b0d;transform:scaleX(1.0205);-webkit-text-stroke:0.3px currentColor;">2025-11-04 23:50</span>
<span class="t" id="t40" style="left:824.00px;top:512.00px;font-size:22px;font-weight:400;color:#0b0b0d;transform:scaleX(0.9693);-webkit-text-stroke:0.3px currentColor;">3</span>
<span class="t" id="t41" style="left:1295.00px;top:512.00px;font-size:22px;font-weight:400;color:#0b0b0d;-webkit-text-stroke:0.3px currentColor;transform:scaleX(1.3);transform-origin:0 50%;margin-left:-1.2px;">--</span>
<span class="t" id="t42" style="left:1617.00px;top:512.00px;font-size:22px;font-weight:400;color:#3673d0;transform:scaleX(0.9946);-webkit-text-stroke:0.3px currentColor;">BA levels</span>
<span class="t" id="t43" style="left:1940.00px;top:512.00px;font-size:22px;font-weight:400;color:#0b0b0d;-webkit-text-stroke:0.3px currentColor;transform:scaleX(1.3);transform-origin:0 50%;margin-left:-1.2px;">--</span>
<span class="t" id="t44" style="left:2263.00px;top:512.00px;font-size:22px;font-weight:400;color:#0b0b0d;transform:scaleX(0.9372);-webkit-text-stroke:0.3px currentColor;">2025-11-04 11:11</span>
<span class="t" id="t45" style="left:824.00px;top:578.00px;font-size:22px;font-weight:400;color:#0b0b0d;transform:scaleX(0.9693);-webkit-text-stroke:0.3px currentColor;">3</span>
<span class="t" id="t46" style="left:973.00px;top:578.00px;font-size:22px;font-weight:400;color:#3673d0;transform:scaleX(0.9682);-webkit-text-stroke:0.3px currentColor;">Automation_Only_IM</span>
<span class="t" id="t47" style="left:1295.00px;top:578.00px;font-size:22px;font-weight:400;color:#0b0b0d;-webkit-text-stroke:0.3px currentColor;transform:scaleX(1.3);transform-origin:0 50%;margin-left:-1.2px;">--</span>
<span class="t" id="t48" style="left:1618.00px;top:578.00px;font-size:22px;font-weight:400;color:#0b0b0d;-webkit-text-stroke:0.3px currentColor;transform:scaleX(1.3);transform-origin:0 50%;margin-left:-1.2px;">--</span>
<span class="t" id="t49" style="left:1940.00px;top:578.00px;font-size:22px;font-weight:400;color:#0b0b0d;-webkit-text-stroke:0.3px currentColor;transform:scaleX(1.3);transform-origin:0 50%;margin-left:-1.2px;">--</span>
<span class="t" id="t50" style="left:2262.00px;top:578.00px;font-size:22px;font-weight:400;color:#0b0b0d;transform:scaleX(1.0611);-webkit-text-stroke:0.3px currentColor;">2025-09-25 00:23</span>
<span class="t" id="t51" style="left:824.00px;top:644.00px;font-size:22px;font-weight:400;color:#0b0b0d;transform:scaleX(0.9693);-webkit-text-stroke:0.3px currentColor;">3</span>
<span class="t" id="t52" style="left:973.00px;top:644.00px;font-size:22px;font-weight:400;color:#3673d0;transform:scaleX(0.9585);-webkit-text-stroke:0.3px currentColor;">Automation_Only_SCM</span>
<span class="t" id="t53" style="left:1295.00px;top:644.00px;font-size:22px;font-weight:400;color:#0b0b0d;-webkit-text-stroke:0.3px currentColor;transform:scaleX(1.3);transform-origin:0 50%;margin-left:-1.2px;">--</span>
<span class="t" id="t54" style="left:1618.00px;top:644.00px;font-size:22px;font-weight:400;color:#0b0b0d;-webkit-text-stroke:0.3px currentColor;transform:scaleX(1.3);transform-origin:0 50%;margin-left:-1.2px;">--</span>
<span class="t" id="t55" style="left:1940.00px;top:644.00px;font-size:22px;font-weight:400;color:#0b0b0d;-webkit-text-stroke:0.3px currentColor;transform:scaleX(1.3);transform-origin:0 50%;margin-left:-1.2px;">--</span>
<span class="t" id="t56" style="left:2262.00px;top:644.00px;font-size:22px;font-weight:400;color:#0b0b0d;transform:scaleX(1.0550);-webkit-text-stroke:0.3px currentColor;">2025-09-25 00:24</span>
<span class="t" id="t57" style="left:824.00px;top:710.00px;font-size:22px;font-weight:400;color:#0b0b0d;transform:scaleX(0.9693);-webkit-text-stroke:0.3px currentColor;">3</span>
<span class="t" id="t58" style="left:476.00px;top:710.00px;font-size:22px;font-weight:400;color:#3673d0;transform:scaleX(1.0210);-webkit-text-stroke:0.3px currentColor;">auto_productivity</span>
<span class="t" id="t59" style="left:973.00px;top:710.00px;font-size:22px;font-weight:400;color:#0b0b0d;-webkit-text-stroke:0.3px currentColor;transform:scaleX(1.3);transform-origin:0 50%;margin-left:-1.2px;">--</span>
<span class="t" id="t60" style="left:1294.00px;top:710.00px;font-size:22px;font-weight:400;color:#3673d0;transform:scaleX(1.0183);-webkit-text-stroke:0.3px currentColor;">Productivity profile 16th July</span>
<span class="t" id="t61" style="left:1618.00px;top:710.00px;font-size:22px;font-weight:400;color:#0b0b0d;-webkit-text-stroke:0.3px currentColor;transform:scaleX(1.3);transform-origin:0 50%;margin-left:-1.2px;">--</span>
<span class="t" id="t62" style="left:1940.00px;top:710.00px;font-size:22px;font-weight:400;color:#0b0b0d;-webkit-text-stroke:0.3px currentColor;transform:scaleX(1.3);transform-origin:0 50%;margin-left:-1.2px;">--</span>
<span class="t" id="t63" style="left:2262.00px;top:710.00px;font-size:22px;font-weight:400;color:#0b0b0d;transform:scaleX(1.0347);-webkit-text-stroke:0.3px currentColor;">2025-09-16 23:24</span>
<span class="t" id="t64" style="left:824.00px;top:776.00px;font-size:22px;font-weight:400;color:#0b0b0d;transform:scaleX(0.9693);-webkit-text-stroke:0.3px currentColor;">3</span>
<span class="t" id="t65" style="left:475.00px;top:776.00px;font-size:22px;font-weight:400;color:#3673d0;transform:scaleX(0.9502);-webkit-text-stroke:0.3px currentColor;">BA</span>
<span class="t" id="t66" style="left:973.00px;top:776.00px;font-size:22px;font-weight:400;color:#0b0b0d;-webkit-text-stroke:0.3px currentColor;transform:scaleX(1.3);transform-origin:0 50%;margin-left:-1.2px;">--</span>
<span class="t" id="t67" style="left:1295.00px;top:776.00px;font-size:22px;font-weight:400;color:#0b0b0d;-webkit-text-stroke:0.3px currentColor;transform:scaleX(1.3);transform-origin:0 50%;margin-left:-1.2px;">--</span>
<span class="t" id="t68" style="left:1617.00px;top:776.00px;font-size:22px;font-weight:400;color:#3673d0;transform:scaleX(0.9946);-webkit-text-stroke:0.3px currentColor;">BA levels</span>
<span class="t" id="t69" style="left:1940.00px;top:776.00px;font-size:22px;font-weight:400;color:#0b0b0d;-webkit-text-stroke:0.3px currentColor;transform:scaleX(1.3);transform-origin:0 50%;margin-left:-1.2px;">--</span>
<span class="t" id="t70" style="left:2262.00px;top:776.00px;font-size:22px;font-weight:400;color:#0b0b0d;transform:scaleX(0.9884);-webkit-text-stroke:0.3px currentColor;">2025-10-14 12:22</span>
<span class="t" id="t71" style="left:824.00px;top:842.00px;font-size:22px;font-weight:400;color:#0b0b0d;transform:scaleX(0.9693);-webkit-text-stroke:0.3px currentColor;">3</span>
<span class="t" id="t72" style="left:475.00px;top:842.00px;font-size:22px;font-weight:400;color:#3673d0;transform:scaleX(0.9502);-webkit-text-stroke:0.3px currentColor;">BA</span>
<span class="t" id="t73" style="left:973.00px;top:842.00px;font-size:22px;font-weight:400;color:#0b0b0d;-webkit-text-stroke:0.3px currentColor;transform:scaleX(1.3);transform-origin:0 50%;margin-left:-1.2px;">--</span>
<span class="t" id="t74" style="left:1295.00px;top:842.00px;font-size:22px;font-weight:400;color:#0b0b0d;-webkit-text-stroke:0.3px currentColor;transform:scaleX(1.3);transform-origin:0 50%;margin-left:-1.2px;">--</span>
<span class="t" id="t75" style="left:1940.00px;top:842.00px;font-size:22px;font-weight:400;color:#0b0b0d;-webkit-text-stroke:0.3px currentColor;transform:scaleX(1.3);transform-origin:0 50%;margin-left:-1.2px;">--</span>
<span class="t" id="t76" style="left:2262.00px;top:842.00px;font-size:22px;font-weight:400;color:#0b0b0d;transform:scaleX(1.0145);-webkit-text-stroke:0.3px currentColor;">2025-10-31 02:44</span>
<span class="t" id="t77" style="left:2548.00px;top:842.00px;font-size:22px;font-weight:400;color:#0b0b0d;transform:scaleX(0.9900);-webkit-text-stroke:0.3px currentColor;">dummy@harness.io</span>
<span class="t" id="t78" style="left:824.00px;top:908.00px;font-size:22px;font-weight:400;color:#0b0b0d;transform:scaleX(0.9693);-webkit-text-stroke:0.3px currentColor;">3</span>
<span class="t" id="t79" style="left:973.00px;top:908.00px;font-size:22px;font-weight:400;color:#0b0b0d;-webkit-text-stroke:0.3px currentColor;transform:scaleX(1.3);transform-origin:0 50%;margin-left:-1.2px;">--</span>
<span class="t" id="t80" style="left:1295.00px;top:908.00px;font-size:22px;font-weight:400;color:#0b0b0d;-webkit-text-stroke:0.3px currentColor;transform:scaleX(1.3);transform-origin:0 50%;margin-left:-1.2px;">--</span>
<span class="t" id="t81" style="left:1940.00px;top:908.00px;font-size:22px;font-weight:400;color:#0b0b0d;-webkit-text-stroke:0.3px currentColor;transform:scaleX(1.3);transform-origin:0 50%;margin-left:-1.2px;">--</span>
<span class="t" id="t82" style="left:2262.00px;top:908.00px;font-size:22px;font-weight:400;color:#0b0b0d;transform:scaleX(1.0088);-webkit-text-stroke:0.3px currentColor;">2025-10-23 15:09</span>
<span class="t" id="t83" style="left:824.00px;top:974.00px;font-size:22px;font-weight:400;color:#0b0b0d;transform:scaleX(0.9693);-webkit-text-stroke:0.3px currentColor;">3</span>
<span class="t" id="t84" style="left:1617.00px;top:974.00px;font-size:22px;font-weight:400;color:#3673d0;transform:scaleX(1.0271);-webkit-text-stroke:0.3px currentColor;">BA profile</span>
<span class="t" id="t85" style="left:1940.00px;top:974.00px;font-size:22px;font-weight:400;color:#0b0b0d;-webkit-text-stroke:0.3px currentColor;transform:scaleX(1.3);transform-origin:0 50%;margin-left:-1.2px;">--</span>
<span class="t" id="t86" style="left:2262.00px;top:974.00px;font-size:22px;font-weight:400;color:#0b0b0d;transform:scaleX(1.0347);-webkit-text-stroke:0.3px currentColor;">2025-09-16 23:24</span>
<span class="t" id="t87" style="left:475.00px;top:1058.00px;font-size:20.5px;font-weight:400;color:#0b0b0d;transform:scaleX(0.9843);-webkit-text-stroke:0.6px #0b0b0d;">(1 - 10) of 109</span>
<span class="t" id="t88" style="left:3058.00px;top:1057.80px;font-size:21.7px;font-weight:400;color:#65687f;transform:scaleX(1.0834);-webkit-text-stroke:0.3px currentColor;">Showing 10 per page</span>
<span class="t" id="t89" style="left:1431.20px;top:1058.20px;font-size:22px;font-weight:400;color:#7d7f9a;transform:scaleX(1.0666);-webkit-text-stroke:0.3px currentColor;">Prev</span>
<span class="t" id="t90" style="left:1544.60px;top:1058.20px;font-size:22px;font-weight:400;color:#ffffff;transform:scaleX(0.8371);-webkit-text-stroke:0.3px currentColor;">1</span>
<span class="t" id="t91" style="left:1619.20px;top:1058.20px;font-size:22px;font-weight:400;color:#3673d0;transform:scaleX(1.0485);-webkit-text-stroke:0.3px currentColor;">2</span>
<span class="t" id="t92" style="left:1698.20px;top:1058.20px;font-size:22px;font-weight:400;color:#3673d0;transform:scaleX(0.9693);-webkit-text-stroke:0.3px currentColor;">3</span>
<span class="t" id="t93" style="left:1777.20px;top:1058.20px;font-size:22px;font-weight:400;color:#3673d0;transform:scaleX(1.0282);-webkit-text-stroke:0.3px currentColor;">4</span>
<span class="t" id="t94" style="left:1855.00px;top:1058.20px;font-size:22px;font-weight:400;color:#3673d0;-webkit-text-stroke:0.3px currentColor;">5</span>
<span class="t" id="t95" style="left:1999.20px;top:1058.20px;font-size:22px;font-weight:400;color:#3673d0;transform:scaleX(0.9582);-webkit-text-stroke:0.3px currentColor;">10</span>
<span class="t" id="t96" style="left:2088.00px;top:1058.20px;font-size:22px;font-weight:400;color:#3673d0;transform:scaleX(0.8375);-webkit-text-stroke:0.3px currentColor;">11</span>
<span class="t" id="t97" style="left:2171.00px;top:1058.20px;font-size:22px;font-weight:400;color:#3673d0;transform:scaleX(1.1369);-webkit-text-stroke:0.3px currentColor;">Next</span>
</body></html>
